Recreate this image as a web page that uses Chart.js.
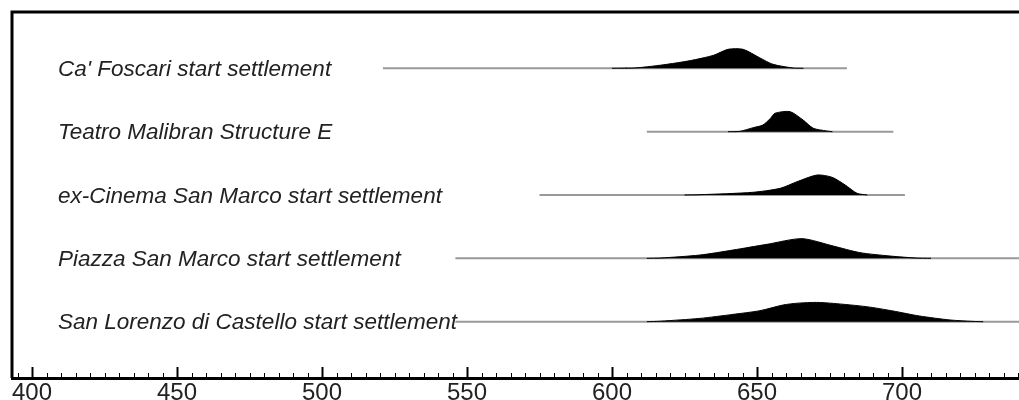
<!DOCTYPE html>
<html>
<head>
<meta charset="utf-8">
<script src="https://cdn.jsdelivr.net/npm/chart.js@4.4.1/dist/chart.umd.min.js"></script>
<style>
  html, body { margin: 0; padding: 0; background: #fff; }
  canvas { display: block; }
</style>
</head>
<body>
<canvas id="oxcal" width="1019" height="400"></canvas>
<script>
// etichette delle righe (dall'alto in basso)
const rowLabels = [
    "Ca' Foscari start settlement",
    'Teatro Malibran Structure E',
    'ex-Cinema San Marco start settlement',
    'Piazza San Marco start settlement',
    'San Lorenzo di Castello start settlement'
];
// intervallo della linea grigia per ogni riga
const rangeStart = [521, 612, 575, 546, 546];
const rangeEnd = [681, 697, 701, 750, 750];

// distribuzioni (anno, probabilita' relativa)
const foscariYears = [600, 608.6, 619, 627, 635, 640, 645.2, 651, 655.5, 662.5, 666];
const foscariProb  = [0, 0.025, 0.2, 0.385, 0.65, 0.95, 0.95, 0.52, 0.2, 0.015, 0];
const malibranYears = [640, 644, 648.7, 652, 654.6, 656.2, 661.4, 665.9, 669.4, 674, 676];
const malibranProb  = [0, 0.015, 0.2, 0.33, 0.66, 0.92, 1.0, 0.58, 0.17, 0.035, 0];
const cinemaYears = [625, 630.3, 648.6, 658, 663.8, 670.7, 675.9, 680.4, 684.5, 688];
const cinemaProb  = [0, 0.015, 0.135, 0.335, 0.665, 1.0, 0.885, 0.5, 0.085, 0];
const piazzaYears = [612, 616.6, 630.3, 641.7, 653.4, 665.5, 676.3, 685.5, 695.9, 705, 710];
const piazzaProb  = [0, 0.015, 0.165, 0.415, 0.7, 0.985, 0.615, 0.285, 0.115, 0.015, 0];
const lorenzoYears = [612, 616.6, 630.3, 641.7, 651, 659, 664, 670.6, 676.3, 687.8, 696.9, 706, 716.6, 724.5, 728];
const lorenzoProb  = [0, 0.025, 0.165, 0.365, 0.55, 0.835, 0.925, 0.965, 0.915, 0.75, 0.535, 0.285, 0.085, 0.015, 0];

const tickLabels = [400, 450, 500, 550, 600, 650, 700];

const distYears = [foscariYears, malibranYears, cinemaYears, piazzaYears, lorenzoYears];
const distProb = [foscariProb, malibranProb, cinemaProb, piazzaProb, lorenzoProb];

const ROW_PAD = 0.889;      // spazio sopra/sotto le righe estreme
const PEAK = 20 / 63.34;    // altezza del picco in unita' di riga
const nRows = rowLabels.length;

function baseOf(i) { return ROW_PAD + (nRows - 1 - i); }

const datasets = [];
rowLabels.forEach((lab, i) => {
    const b = baseOf(i);
    datasets.push({
        label: lab + ' range',
        data: [{x: rangeStart[i], y: b}, {x: rangeEnd[i], y: b}],
        borderColor: '#999',
        borderWidth: 2,
        pointRadius: 0,
        fill: false,
        order: 2
    });
    datasets.push({
        label: lab,
        data: distYears[i].map((yr, k) => ({x: yr, y: b + distProb[i][k] * PEAK})),
        borderColor: '#000',
        backgroundColor: '#000',
        borderWidth: 1,
        pointRadius: 0,
        tension: 0.25,
        fill: {value: b},
        order: 1
    });
});

// cornice, tacche e etichette delle righe
const oxcalDecor = {
    id: 'oxcalDecor',
    afterDraw(chart) {
        const ctx = chart.ctx;
        const xs = chart.scales.x, ys = chart.scales.y;
        const area = chart.chartArea;
        ctx.save();
        // cornice sopra e a sinistra
        ctx.strokeStyle = '#000';
        ctx.lineWidth = 3;
        ctx.beginPath();
        ctx.moveTo(area.left, area.bottom);
        ctx.lineTo(area.left, area.top);
        ctx.lineTo(chart.width + 5, area.top);
        ctx.stroke();
        // tacche verso l'alto
        for (let v = Math.ceil(xs.min / 5) * 5; v <= xs.max; v += 5) {
            const px = Math.round(xs.getPixelForValue(v)) + 0.5;
            const major = v % 50 === 0;
            ctx.lineWidth = major ? 2 : 1;
            ctx.beginPath();
            ctx.moveTo(px, area.bottom);
            ctx.lineTo(px, area.bottom - (major ? 11 : 5));
            ctx.stroke();
        }
        // etichette
        ctx.fillStyle = '#222';
        ctx.font = 'italic 22.5px "Liberation Sans", Arial, sans-serif';
        ctx.textAlign = 'left';
        ctx.textBaseline = 'alphabetic';
        rowLabels.forEach((lab, i) => {
            ctx.fillText(lab, 58, ys.getPixelForValue(baseOf(i)) + 7.5);
        });
        ctx.restore();
    }
};

new Chart(document.getElementById('oxcal'), {
    type: 'line',
    data: { datasets: datasets },
    options: {
        responsive: false,
        animation: false,
        devicePixelRatio: 1,
        layout: { padding: { left: 12, top: 12, right: 0, bottom: 0 } },
        plugins: { legend: { display: false }, tooltip: { enabled: false } },
        scales: {
            x: {
                type: 'linear',
                min: 393.1,
                max: 740.34,
                afterFit: (s) => { s.height = 22; },
                afterBuildTicks: (s) => { s.ticks = tickLabels.map(v => ({value: v})); },
                grid: { display: false, drawTicks: false },
                border: { display: true, color: '#000', width: 3 },
                ticks: {
                    color: '#222',
                    padding: 3,
                    maxRotation: 0,
                    font: { family: '"Liberation Sans", Arial, sans-serif', size: 24, lineHeight: 1 }
                }
            },
            y: {
                display: false,
                min: 0,
                max: 2 * ROW_PAD + (nRows - 1)
            }
        }
    },
    plugins: [oxcalDecor]
});
</script>
</body>
</html>
